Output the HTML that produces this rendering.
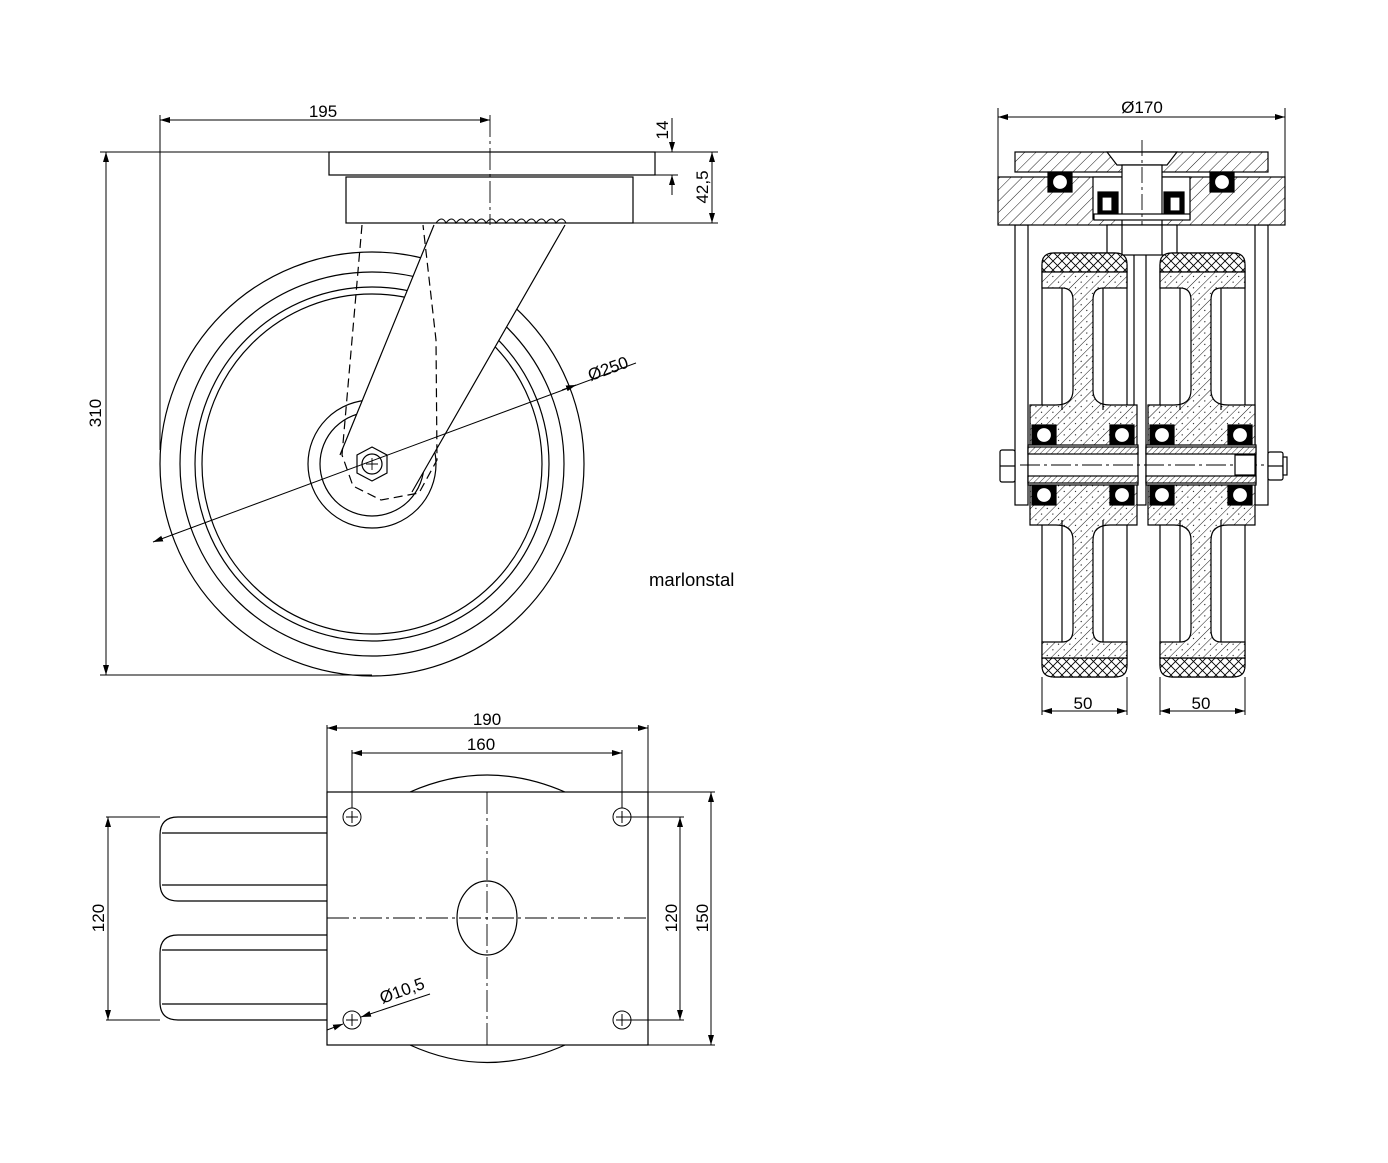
<!DOCTYPE html>
<html><head><meta charset="utf-8"><style>
html,body{margin:0;padding:0;background:#fff}
svg{display:block}
text{font-family:"Liberation Sans",sans-serif;font-size:17px;fill:#000}
</style></head><body>
<svg width="1388" height="1163" viewBox="0 0 1388 1163" xmlns="http://www.w3.org/2000/svg">
<defs>
<pattern id="h" width="8" height="8" patternUnits="userSpaceOnUse" patternTransform="rotate(45)">
<rect width="8" height="8" fill="#fff"/><line x1="0" y1="0" x2="0" y2="8" stroke="#000" stroke-width="0.9"/>
</pattern>
<pattern id="hd" width="8" height="8" patternUnits="userSpaceOnUse" patternTransform="rotate(45)">
<rect width="8" height="8" fill="#fff"/><line x1="0" y1="0" x2="0" y2="8" stroke="#000" stroke-width="0.9"/><circle cx="4" cy="3" r="0.6" fill="#000"/>
</pattern>
<pattern id="x" width="9" height="9" patternUnits="userSpaceOnUse">
<rect width="9" height="9" fill="#fff"/><path d="M0 0L9 9M9 0L0 9" stroke="#000" stroke-width="0.9"/>
</pattern>
<pattern id="hf" width="4" height="4" patternUnits="userSpaceOnUse" patternTransform="rotate(45)">
<rect width="4" height="4" fill="#fff"/><line x1="0" y1="0" x2="0" y2="4" stroke="#000" stroke-width="0.8"/>
</pattern>
<marker id="a" viewBox="0 0 10 6" refX="10" refY="3" markerWidth="10" markerHeight="6" orient="auto-start-reverse" markerUnits="userSpaceOnUse"><path d="M0 0L10 3L0 6z" fill="#000"/></marker>
<g id="bear"><rect x="0" y="0" width="24" height="20" fill="#000"/><circle cx="12" cy="10" r="7.5" fill="#fff" stroke="#000"/></g>
<g id="wheel" stroke="#000" stroke-width="1.2">
<rect x="1042" y="253" width="85" height="424" rx="12" fill="#fff"/>
<path d="M1042 264Q1042 253 1054 253H1115Q1127 253 1127 264V272H1042Z" fill="url(#x)"/>
<path d="M1042 666Q1042 677 1054 677H1115Q1127 677 1127 666V658H1042Z" fill="url(#x)"/>
<path d="M1042 272H1127V288H1103Q1093 288 1093 300V390Q1093 405 1110 405H1137V525H1110Q1093 525 1093 540V630Q1093 642 1103 642H1127V658H1042V642H1062Q1073 642 1073 630V540Q1073 525 1056 525H1030V405H1056Q1073 405 1073 390V300Q1073 288 1062 288H1042Z" fill="url(#hd)"/>
<line x1="1062" y1="288" x2="1062" y2="410" /><line x1="1103" y1="288" x2="1103" y2="410"/>
<line x1="1062" y1="520" x2="1062" y2="642"/><line x1="1103" y1="520" x2="1103" y2="642"/>
<use href="#bear" x="1032" y="425"/><use href="#bear" x="1110" y="425"/>
<use href="#bear" x="1032" y="485"/><use href="#bear" x="1110" y="485"/>
<rect x="1028" y="445" width="110" height="40" fill="#fff"/>
<rect x="1028" y="447" width="110" height="7" fill="url(#hf)"/>
<rect x="1028" y="476" width="110" height="7" fill="url(#hf)"/>
</g>
</defs>

<g fill="none" stroke="#000" stroke-width="1.2">
<!-- SIDE VIEW -->
<circle cx="372" cy="464" r="212"/>
<circle cx="372" cy="464" r="192"/>
<circle cx="372" cy="464" r="177"/>
<circle cx="372" cy="464" r="170"/>
<circle cx="372" cy="464" r="64"/>
<circle cx="372" cy="464" r="52"/>
<path d="M434 225L565 225L412 492L381 500L353 486L340 455Z" fill="#fff" stroke="none"/>
<path d="M434 225L340 455M565 225L412 492" />
<path d="M362 225L342 455L353 486L381 500L419 493L437 460L436 340L423 225" stroke-dasharray="9 5"/>
<polygon points="372,447 387,455 387,473 372,481 357,473 357,455" fill="#fff"/>
<circle cx="372" cy="464" r="10"/>
<path d="M366 464H378M372 458V470" stroke-width="0.9"/>
<rect x="329" y="152" width="326" height="23" fill="#fff"/>
<rect x="346" y="177" width="287" height="46" fill="#fff"/>
<path d="M436 223q6-8 10 0q6-8 10 0q6-8 10 0q6-8 10 0q6-8 10 0q6-8 10 0q6-8 10 0q6-8 10 0q6-8 10 0q6-8 10 0q6-8 10 0q6-8 10 0q6-8 10 0" stroke-width="1"/>
<line x1="490" y1="115" x2="490" y2="225" stroke-dasharray="22 4 3 4" stroke-width="0.9"/>
<line x1="160" y1="115" x2="160" y2="450" stroke-width="1"/>
<line x1="160" y1="120" x2="490" y2="120" marker-start="url(#a)" marker-end="url(#a)" stroke-width="1"/>
<line x1="100" y1="152" x2="329" y2="152" stroke-width="1"/>
<line x1="100" y1="675" x2="372" y2="675" stroke-width="1"/>
<line x1="106" y1="152" x2="106" y2="675" marker-start="url(#a)" marker-end="url(#a)" stroke-width="1"/>
<line x1="655" y1="152" x2="718" y2="152" stroke-width="1"/>
<line x1="655" y1="175" x2="678" y2="175" stroke-width="1"/>
<line x1="633" y1="223" x2="718" y2="223" stroke-width="1"/>
<line x1="672" y1="118" x2="672" y2="152" marker-end="url(#a)" stroke-width="1"/>
<line x1="672" y1="195" x2="672" y2="175" marker-end="url(#a)" stroke-width="1"/>
<line x1="712" y1="152" x2="712" y2="223" marker-start="url(#a)" marker-end="url(#a)" stroke-width="1"/>
<line x1="153" y1="542" x2="636" y2="363" stroke-width="1" marker-start="url(#a)"/>
<line x1="562" y1="390" x2="576" y2="385" stroke-width="1" marker-end="url(#a)"/>

<!-- PLAN VIEW -->
<path d="M410 792Q487 758 565 792" />
<path d="M410 1045Q487 1080 565 1045" />
<path d="M327 817H178Q160 817 160 835V883Q160 901 178 901H327" />
<path d="M162 833H327M162 885H327"/>
<path d="M327 935H178Q160 935 160 953V1002Q160 1020 178 1020H327" />
<path d="M162 950H327M162 1004H327"/>
<rect x="327" y="792" width="321" height="253" fill="#fff"/>
<ellipse cx="487" cy="918" rx="30" ry="37"/>
<line x1="487" y1="792" x2="487" y2="1045" stroke-dasharray="22 4 3 4" stroke-width="0.9"/>
<line x1="327" y1="918" x2="648" y2="918" stroke-dasharray="22 4 3 4" stroke-width="0.9"/>
<g stroke-width="1">
<circle cx="352" cy="817" r="9"/><path d="M346 817H358M352 811V823"/>
<circle cx="622" cy="817" r="9"/><path d="M616 817H628M622 811V823"/>
<circle cx="352" cy="1020" r="9"/><path d="M346 1020H358M352 1014V1026"/>
<circle cx="622" cy="1020" r="9"/><path d="M616 1020H628M622 1014V1026"/>
<line x1="327" y1="725" x2="327" y2="792"/><line x1="648" y1="725" x2="648" y2="792"/>
<line x1="327" y1="728" x2="648" y2="728" marker-start="url(#a)" marker-end="url(#a)"/>
<line x1="352" y1="750" x2="352" y2="808"/><line x1="622" y1="750" x2="622" y2="808"/>
<line x1="352" y1="753" x2="622" y2="753" marker-start="url(#a)" marker-end="url(#a)"/>
<line x1="106" y1="817" x2="160" y2="817"/><line x1="106" y1="1020" x2="160" y2="1020"/>
<line x1="108" y1="817" x2="108" y2="1020" marker-start="url(#a)" marker-end="url(#a)"/>
<line x1="622" y1="817" x2="684" y2="817"/><line x1="622" y1="1020" x2="684" y2="1020"/>
<line x1="680" y1="817" x2="680" y2="1020" marker-start="url(#a)" marker-end="url(#a)"/>
<line x1="648" y1="792" x2="715" y2="792"/><line x1="648" y1="1045" x2="715" y2="1045"/>
<line x1="711" y1="792" x2="711" y2="1045" marker-start="url(#a)" marker-end="url(#a)"/>
<line x1="327" y1="1030" x2="343" y2="1024" marker-end="url(#a)"/>
<line x1="430" y1="994" x2="361" y2="1017" marker-end="url(#a)"/>
</g>

<!-- FRONT SECTION VIEW -->
<g stroke-width="1">
<line x1="998" y1="108" x2="998" y2="225"/><line x1="1285" y1="108" x2="1285" y2="225"/>
<line x1="998" y1="117" x2="1285" y2="117" marker-start="url(#a)" marker-end="url(#a)"/>
</g>
<rect x="1015" y="225" width="13" height="280" fill="#fff"/>
<rect x="1255" y="225" width="13" height="280" fill="#fff"/>
<rect x="1134" y="225" width="12" height="280" fill="#fff"/>
<rect x="1015" y="152" width="253" height="20" fill="url(#h)"/>
<rect x="998" y="177" width="287" height="48" fill="url(#h)"/>
<path d="M1107 152H1177L1167 165H1117Z" fill="#fff"/>
<rect x="1093" y="177" width="97" height="42" fill="#fff"/>
<rect x="1122" y="165" width="40" height="60" fill="#fff"/>
<use href="#bear" x="1048" y="172"/><use href="#bear" x="1210" y="172"/>
<rect x="1098" y="192" width="20" height="22" fill="#000"/><rect x="1164" y="192" width="20" height="22" fill="#000"/>
<rect x="1102" y="197" width="10" height="14" fill="#fff"/><rect x="1170" y="197" width="10" height="14" fill="#fff"/>
<rect x="1094" y="214" width="96" height="6" fill="#fff"/>
<rect x="1107" y="225" width="70" height="30" fill="#fff"/>
<line x1="1122" y1="225" x2="1122" y2="255"/><line x1="1162" y1="225" x2="1162" y2="255"/>
<line x1="1142" y1="140" x2="1142" y2="225" stroke-dasharray="16 4 3 4" stroke-width="0.9"/>
<use href="#wheel"/>
<use href="#wheel" x="118"/>
<line x1="1020" y1="465" x2="1265" y2="465" stroke-dasharray="20 4 3 4" stroke-width="0.9"/>
<rect x="1000" y="450" width="15" height="32" rx="2" fill="#fff"/>
<line x1="1000" y1="466" x2="1015" y2="466"/>
<rect x="1268" y="452" width="15" height="28" rx="2" fill="#fff"/>
<rect x="1283" y="457" width="4" height="18" fill="#fff"/>
<line x1="1268" y1="466" x2="1283" y2="466"/>
<rect x="1235" y="455" width="20" height="20" fill="#fff"/>
<g stroke-width="1">
<line x1="1042" y1="677" x2="1042" y2="715"/><line x1="1127" y1="677" x2="1127" y2="715"/>
<line x1="1042" y1="711" x2="1127" y2="711" marker-start="url(#a)" marker-end="url(#a)"/>
<line x1="1160" y1="677" x2="1160" y2="715"/><line x1="1245" y1="677" x2="1245" y2="715"/>
<line x1="1160" y1="711" x2="1245" y2="711" marker-start="url(#a)" marker-end="url(#a)"/>
</g>
</g>

<text x="323" y="117" text-anchor="middle">195</text>
<text transform="translate(101,413) rotate(-90)" text-anchor="middle">310</text>
<text transform="translate(668,130) rotate(-90)" text-anchor="middle">14</text>
<text transform="translate(708,187) rotate(-90)" text-anchor="middle">42,5</text>
<text transform="translate(610,374) rotate(-20)" text-anchor="middle">Ø250</text>
<text x="649" y="586" style="font-size:18.5px">marlonstal</text>
<text x="487" y="725" text-anchor="middle">190</text>
<text x="481" y="750" text-anchor="middle">160</text>
<text transform="translate(104,918) rotate(-90)" text-anchor="middle">120</text>
<text transform="translate(677,918) rotate(-90)" text-anchor="middle">120</text>
<text transform="translate(708,918) rotate(-90)" text-anchor="middle">150</text>
<text transform="translate(404,996) rotate(-20)" text-anchor="middle">Ø10,5</text>
<text x="1142" y="113" text-anchor="middle">Ø170</text>
<text x="1083" y="709" text-anchor="middle">50</text>
<text x="1201" y="709" text-anchor="middle">50</text>
</svg>
</body></html>
